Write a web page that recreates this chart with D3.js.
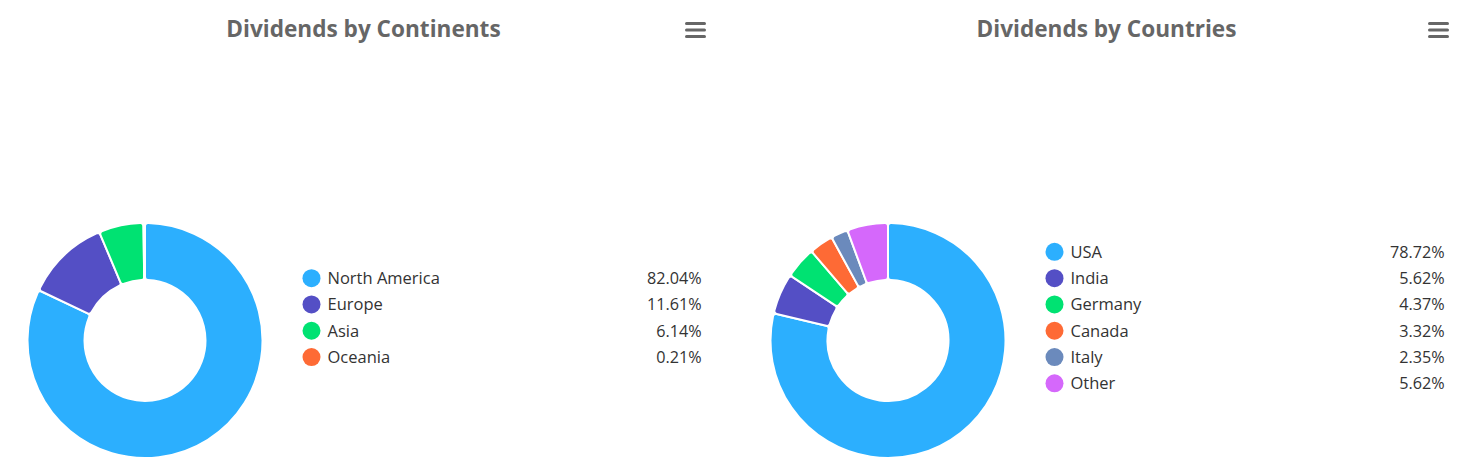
<!DOCTYPE html>
<html>
<head>
<meta charset="utf-8">
<script src="https://cdn.jsdelivr.net/npm/d3@7"></script>
<style>
  html, body { margin: 0; padding: 0; background: #ffffff; }
  svg { display: block; font-family: "Open Sans", "Noto Sans", sans-serif; }
</style>
</head>
<body>
<svg id="chart" width="1477" height="472"></svg>
<script>
// Dividend breakdowns
const continentLabels = ["North America", "Europe", "Asia", "Oceania"];
const continentShares = [82.04, 11.61, 6.14, 0.21];

const countryLabels = ["USA", "India", "Germany", "Canada", "Italy", "Other"];
const countryShares = [78.72, 5.62, 4.37, 3.32, 2.35, 5.62];

const palette = ["#2caffe", "#544fc5", "#00e272", "#fe6a35", "#6b8abc", "#d568fb"];

const panels = [
  { title: "Dividends by Continents", labels: continentLabels, values: continentShares },
  { title: "Dividends by Countries", labels: countryLabels, values: countryShares }
];

const svg = d3.select("#chart");
const panelWidth = 727;
const panelStep = 743;

const color = d3.scaleOrdinal().range(palette);

const pie = d3.pie().sort(null).value(d => d.value);
const arc = d3.arc().innerRadius(60.5).outerRadius(117.5).cornerRadius(3);

panels.forEach((p, pi) => {
  const g = svg.append("g").attr("transform", `translate(${pi * panelStep},0)`);
  const rows = p.labels.map((label, i) => ({ label, value: p.values[i] }));
  color.domain(p.labels);

  // title
  g.append("text")
    .attr("x", panelWidth / 2)
    .attr("y", 36.8)
    .attr("text-anchor", "middle")
    .attr("font-size", 22.6)
    .attr("font-weight", 700)
    .attr("fill", "#666666")
    .text(p.title);

  // context menu icon
  const menu = g.append("g").attr("transform", "translate(685,0)");
  [23.5, 30, 36.5].forEach(y => {
    menu.append("rect")
      .attr("x", 0).attr("y", y - 1.5)
      .attr("width", 21).attr("height", 3)
      .attr("rx", 1.5)
      .attr("fill", "#666666");
  });

  // donut
  const donut = g.append("g").attr("transform", "translate(145,340.5)");
  donut.selectAll("path")
    .data(pie(rows))
    .join("path")
    .attr("d", arc)
    .attr("fill", d => color(d.data.label))
    .attr("stroke", "#ffffff")
    .attr("stroke-width", 2)
    .attr("stroke-linejoin", "round");

  // legend
  const pitch = 26.3;
  const midY = 317.6;
  const y = i => midY + (i - (rows.length - 1) / 2) * pitch;
  const legend = g.append("g");
  const item = legend.selectAll("g")
    .data(rows)
    .join("g")
    .attr("transform", (d, i) => `translate(0,${y(i)})`);

  item.append("circle")
    .attr("cx", 311.5)
    .attr("cy", 0)
    .attr("r", 9)
    .attr("fill", d => color(d.label));

  item.append("text")
    .attr("x", 327.5)
    .attr("y", 6)
    .attr("font-size", 16.5)
    .attr("fill", "#333333")
    .text(d => d.label);

  item.append("text")
    .attr("x", 701.7)
    .attr("y", 6)
    .attr("text-anchor", "end")
    .attr("font-size", 16.2)
    .attr("fill", "#333333")
    .text(d => d3.format(".2f")(d.value) + "%");
});
</script>
</body>
</html>
